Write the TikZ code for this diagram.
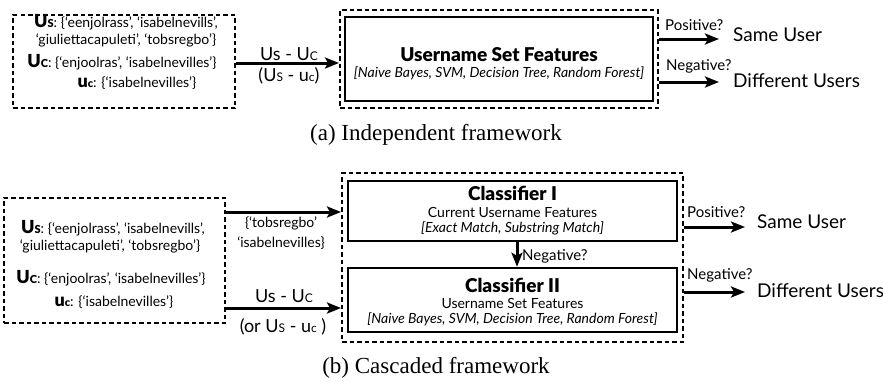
\documentclass[tikz,border=0pt]{standalone}
\usepackage{fontspec}
\setmainfont{Lato}
\newfontfamily\heavy{Lato Black}
\newfontfamily\capfont{Liberation Serif}
\usetikzlibrary{arrows.meta,calc}
\newcommand{\fsz}[1]{\fontsize{#1}{#1}\selectfont}
\newcommand{\setU}[2]{{\heavy\fsz{18}#1}{\heavy\fsz{11}#2}}
\begin{document}
\begin{tikzpicture}[x=1pt,y=-1pt,
  dashbox/.style={draw, line width=2pt, dash pattern=on 4.5pt off 3pt, inner sep=0pt},
  solidbox/.style={draw, line width=2.5pt, inner sep=0pt},
  arr/.style={line width=3pt, -{Stealth[length=14pt,width=11pt,inset=3pt]}},
  settxt/.style={inner sep=0pt, font=\fsz{14}},
  lab/.style={inner sep=0pt, font=\fsz{18}},
  smalllab/.style={inner sep=0pt, anchor=west, font=\fsz{15}},
  outtxt/.style={inner sep=0pt, anchor=west, font=\fsz{19}},
  ttl/.style={inner sep=0pt, font=\heavy\fsz{19}},
  sub/.style={inner sep=0pt, font=\fsz{14}},
  ital/.style={inner sep=0pt, font=\itshape\fsz{14}},
  captxt/.style={inner sep=0pt, anchor=base, font=\capfont\fsz{23}}]
\useasboundingbox (0,0) rectangle (883,381);

% ---------- (a) ----------
\node[dashbox, minimum width=222pt, minimum height=93pt] (srcA) at (124,61.5) {};
\node[settxt] (a1) at (126,22) {\setU{U}{S}: \{‘eenjolrass’, ‘isabelnevills’,};
\node[settxt] (a2) at (126,40) {‘giuliettacapuleti’, ‘tobsregbo’\}};
\node[settxt] (a3) at (122,62) {\setU{U}{C}: \{‘enjoolras’, ‘isabelnevilles’\}};
\node[settxt] (a4) at (137,83) {\setU{u}{c}: \{‘isabelnevilles’\}};

\node[dashbox, minimum width=318pt, minimum height=98pt] (outA) at (499,59) {};
\node[solidbox, minimum width=308pt, minimum height=84pt] (clfA) at (499,59) {};
\node[ttl] (tA) at (499,55) {Username Set Features};
\node[ital] (iA) at (499,73) {[Naive Bayes, SVM, Decision Tree, Random Forest]};

\coordinate (ya) at (0,63);
\draw[arr] (srcA.east |- ya) -- (outA.west |- ya);
\node[lab] (la1) at (289,54) {Us - U{\fsz{12}C}};
\node[lab] (la2) at (289,76) {(U{\fsz{12}S} - u{\fsz{12}c})};

\node[outtxt] (sameA) at (733,35) {Same User};
\node[outtxt] (diffA) at (733,81) {Different Users};
\coordinate (ypa) at (0,39);
\coordinate (yna) at (0,82);
\draw[arr, shorten >=14pt] (outA.east |- ypa) -- (sameA.west |- ypa);
\draw[arr, shorten >=14pt] (outA.east |- yna) -- (diffA.west |- yna);
\node[smalllab] (pA) at (665,25) {Positive?};
\node[smalllab] (nA) at (666,66) {Negative?};

\node[captxt] (capA) at (436,140) {(a) Independent framework};

% ---------- (b) ----------
\node[dashbox, minimum width=221pt, minimum height=125pt] (srcB) at (114.5,260.5) {};
\node[settxt] (b1) at (113,228) {\setU{U}{S}: \{‘eenjolrass’, ‘isabelnevills’,};
\node[settxt] (b2) at (110,246) {‘giuliettacapuleti’, ‘tobsregbo’\}};
\node[settxt] (b3) at (111,278) {\setU{U}{C}: \{‘enjoolras’, ‘isabelnevilles’\}};
\node[settxt] (b4) at (114,302) {\setU{u}{c}: \{‘isabelnevilles’\}};

\node[dashbox, minimum width=341pt, minimum height=169pt] (outB) at (512.5,257.5) {};
\node[solidbox, minimum width=329pt, minimum height=60pt] (clf1) at (512.5,211) {};
\node[solidbox, minimum width=329pt, minimum height=64pt] (clf2) at (512.5,300) {};
\node[ttl] (t1) at (512.5,193) {Classifier I};
\node[sub] (s1) at (512.5,212) {Current Username Features};
\node[ital] (i1) at (512.5,228) {[Exact Match, Substring Match]};
\node[ttl] (t2) at (512.5,285) {Classifier II};
\node[sub] (s2) at (512.5,303) {Username Set Features};
\node[ital] (i2) at (512.5,319) {[Naive Bayes, SVM, Decision Tree, Random Forest]};

\draw[arr] ([xshift=4.5pt]clf1.south) -- ([xshift=4.5pt]clf2.north);
\node[smalllab] (nd) at (522,256) {Negative?};

\coordinate (yb1) at (0,212);
\coordinate (yb2) at (0,308);
\draw[arr] (srcB.east |- yb1) -- (outB.west |- yb1);
\draw[arr] (srcB.east |- yb2) -- (outB.west |- yb2);
\node[settxt] (lb1) at (281,223) {\{‘tobsregbo’};
\node[settxt] (lb2) at (281,243) {‘isabelnevilles\}};
\node[lab] (lb3) at (284,296) {Us - U{\fsz{12}C}};
\node[lab] (lb4) at (283,327) {(or U{\fsz{12}S} - u{\fsz{12}c} )};

\node[outtxt] (sameB) at (757,222) {Same User};
\node[outtxt] (diffB) at (757,291) {Different Users};
\coordinate (ypb) at (0,227);
\coordinate (ynb) at (0,292);
\draw[arr, shorten >=12pt] (outB.east |- ypb) -- (sameB.west |- ypb);
\draw[arr, shorten >=12pt] (outB.east |- ynb) -- (diffB.west |- ynb);
\node[smalllab] (pB) at (687,212) {Positive?};
\node[smalllab] (nB) at (687,275) {Negative?};

\node[captxt] (capB) at (436,373) {(b) Cascaded framework};
\end{tikzpicture}
\end{document}
